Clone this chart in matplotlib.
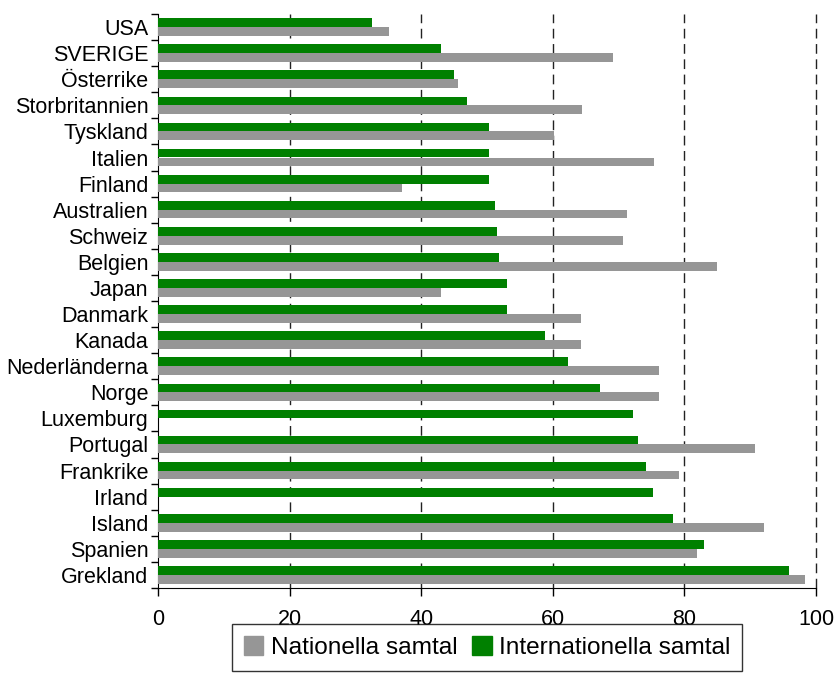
import numpy as np
import matplotlib.pyplot as plt
from matplotlib.patches import Patch

plt.rcParams['font.family'] = ['Liberation Sans', 'DejaVu Sans']

# Länder uppifrån och ned
lander = ['USA', 'SVERIGE', 'Österrike', 'Storbritannien', 'Tyskland', 'Italien',
          'Finland', 'Australien', 'Schweiz', 'Belgien', 'Japan', 'Danmark', 'Kanada',
          'Nederländerna', 'Norge', 'Luxemburg', 'Portugal', 'Frankrike', 'Irland',
          'Island', 'Spanien', 'Grekland']

internationella = [32.5, 43.0, 45.0, 47.0, 50.3, 50.3, 50.3, 51.2, 51.5, 51.8, 53.0, 53.0,
                   58.8, 62.3, 67.2, 72.2, 72.9, 74.2, 75.2, 78.3, 83.0, 95.9]
nationella = [35.1, 69.1, 45.6, 64.4, 60.2, 75.4, 37.1, 71.3, 70.7, 85.0, 43.0, 64.3,
              64.3, 76.1, 76.1, 0, 90.7, 79.2, 0, 92.1, 81.9, 98.3]

gron = '#008000'
gra = '#969696'

fig = plt.figure(figsize=(8.35, 6.91), dpi=100)
ax = fig.add_axes([158 / 835, 1 - 588 / 691, (816 - 158) / 835, (588 - 14) / 691])

y = np.arange(len(lander))
h = 0.335
ax.barh(y - h / 2, internationella, height=h, color=gron, zorder=3)
ax.barh(y + h / 2, nationella, height=h, color=gra, zorder=3)

ax.set_xlim(0, 100)
ax.set_ylim(len(lander) - 0.5, -0.5)
ax.set_xticks([0, 20, 40, 60, 80, 100])
ax.set_yticks(y)
ax.set_yticklabels(lander)
ax.set_yticks(np.arange(len(lander) + 1) - 0.5, minor=True)
ax.tick_params(axis='y', which='major', length=0, labelsize=15.5, pad=7)
ax.tick_params(axis='y', which='minor', length=5, width=1, direction='out')
ax.tick_params(axis='x', length=6, width=1, labelsize=15.5, pad=9)

for v in [20, 40, 60, 80, 100]:
    ax.axvline(v, color='#222222', linestyle=(0, (7, 4)), linewidth=1, zorder=1, clip_on=False)

ax.spines['top'].set_visible(False)
ax.spines['right'].set_visible(False)

# Legend under diagrammet
handles = [Patch(color=gra, label='Nationella samtal'),
           Patch(color=gron, label='Internationella samtal')]
leg = fig.legend(handles=handles, loc='upper center', bbox_to_anchor=(487 / 835, 1 - 624 / 691),
                 ncol=2, frameon=True, fancybox=False, edgecolor='black', fontsize=17.6,
                 handlelength=0.8, handleheight=0.8, handletextpad=0.3, columnspacing=0.6,
                 borderpad=0.5, borderaxespad=0)
leg.get_frame().set_linewidth(1)

fig.savefig('out.png', dpi=100)
